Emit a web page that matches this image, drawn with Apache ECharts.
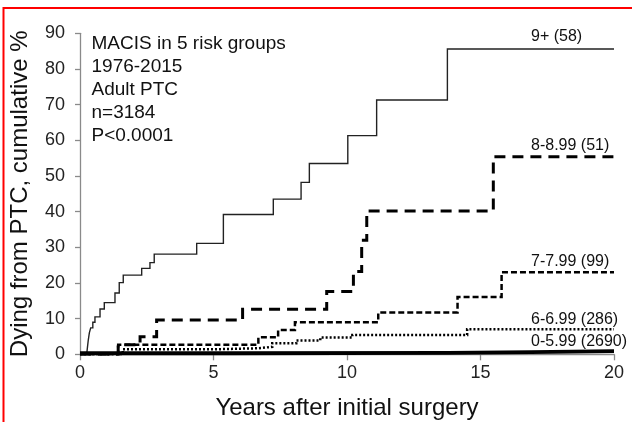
<!DOCTYPE html>
<html><head><meta charset="utf-8">
<script src="https://cdn.jsdelivr.net/npm/echarts@6/dist/echarts.min.js"></script>
<style>html,body{margin:0;padding:0;background:#fff}#c{width:632px;height:422px}</style>
</head><body><div id="c"></div>
<script>
// Data (years after surgery, cumulative % dying from PTC)
var yrs9 = [0, 0.25, 0.28, 0.31, 0.35, 0.40, 0.48, 0.56, 0.75, 0.91, 1.31, 1.47, 1.62, 2.31, 2.62, 2.78, 4.37, 5.37, 7.24, 8.28, 8.59, 10.03, 11.11, 13.76, 20];
var val9 = [0, 0, 2.0, 4.0, 6.0, 7.4, 9.0, 10.5, 12.7, 14.5, 17.2, 20.1, 22.2, 24.1, 25.7, 28.1, 31.1, 39.2, 43.5, 48.2, 53.5, 61.3, 71.3, 85.6, 85.6];
var yrs8 = [0, 1.43, 2.25, 2.87, 6.09, 9.24, 10.24, 10.55, 10.74, 15.48, 20];
var val8 = [0, 2.7, 4.9, 9.6, 12.6, 17.6, 23.2, 32.0, 40.2, 55.4, 55.4];
var yrs7 = [0, 1.43, 6.68, 7.42, 8.05, 11.17, 14.14, 15.79, 20];
var val7 = [0, 2.7, 4.8, 6.8, 9.0, 11.7, 16.1, 23.0, 23.0];
var yrs6 = [0, 1.6, 5.0, 6.7, 7.2, 8.1, 9.0, 10.2, 14.5, 20];
var val6 = [0, 1.4, 1.7, 2.1, 3.1, 3.9, 4.7, 5.4, 7.0, 7.0];
var yrs0 = [0, 5.7, 13.8, 16.9, 20];
var val0 = [0.3, 0.4, 0.6, 0.9, 0.9];
var groupNames = ['9+ (58)', '8-8.99 (51)', '7-7.99 (99)', '6-6.99 (286)', '0-5.99 (2690)'];
var infoLines = ['MACIS in 5 risk groups', '1976-2015', 'Adult PTC', 'n=3184', 'P<0.0001'];

function pairs(xs, ys){ return xs.map(function(x,i){ return [x, ys[i]]; }); }
var FONT = '"Liberation Sans", Arial, sans-serif';
var chart = echarts.init(document.getElementById('c'), null, {renderer:'canvas'});

function series(name, xs, ys, color, width, dash){
  return {name:name, type:'line', step:'end', data:pairs(xs, ys), symbol:'none', silent:true,
    lineStyle:{color:color, width:width, type:dash || 'solid', cap:'butt', join:'miter'}, z:3};
}

var labelY = [36.7, 146, 261.7, 319.3, 341.7];
var graphics = [
  {type:'rect', shape:{x:3.5, y:8, width:700, height:500}, style:{fill:null, stroke:'#ff0000', lineWidth:2}, z:100}
];
infoLines.forEach(function(t, i){
  graphics.push({type:'text', x:91.5, y:43.5 + i*23, style:{text:t, fontSize:19, fontFamily:FONT, fill:'#111', verticalAlign:'middle'}});
});
groupNames.forEach(function(t, i){
  graphics.push({type:'text', x:531, y:labelY[i], style:{text:t, fontSize:16, fontFamily:FONT, fill:'#111', verticalAlign:'middle', align:'left'}});
});

chart.setOption({
  animation:false,
  backgroundColor:'#fff',
  grid:{left:80, right:18, top:33.3, bottom:67.7, containLabel:false, outerBoundsMode:'none'},
  xAxis:{type:'value', min:0, max:20, interval:5,
    axisLine:{lineStyle:{color:'#8a8a8a', width:1.3}},
    axisTick:{show:true, length:6, lineStyle:{color:'#8a8a8a', width:1.3}},
    splitLine:{show:false},
    axisLabel:{fontSize:18, fontFamily:FONT, color:'#222', margin:10},
    name:'Years after initial surgery', nameLocation:'middle', nameGap:42,
    nameTextStyle:{fontSize:24, fontFamily:FONT, color:'#111'}},
  yAxis:{type:'value', min:0, max:90, interval:10,
    axisLine:{show:true, lineStyle:{color:'#8a8a8a', width:1.3}},
    axisTick:{show:true, length:5, lineStyle:{color:'#8a8a8a', width:1.3}},
    splitLine:{show:false},
    axisLabel:{fontSize:18, fontFamily:FONT, color:'#222', margin:15},
    name:'Dying from PTC, cumulative %', nameLocation:'middle', nameGap:48,
    nameTextStyle:{fontSize:24, fontFamily:FONT, color:'#111'}},
  series:[
    series(groupNames[0], yrs9, val9, '#222', 1.4),
    series(groupNames[1], yrs8, val8, '#000', 3, [11, 7]),
    series(groupNames[2], yrs7, val7, '#000', 2.5, [6, 3]),
    series(groupNames[3], yrs6, val6, '#000', 2.5, [2, 2]),
    series(groupNames[4], yrs0, val0, '#000', 3.8)
  ],
  graphic:graphics
});
</script></body></html>
